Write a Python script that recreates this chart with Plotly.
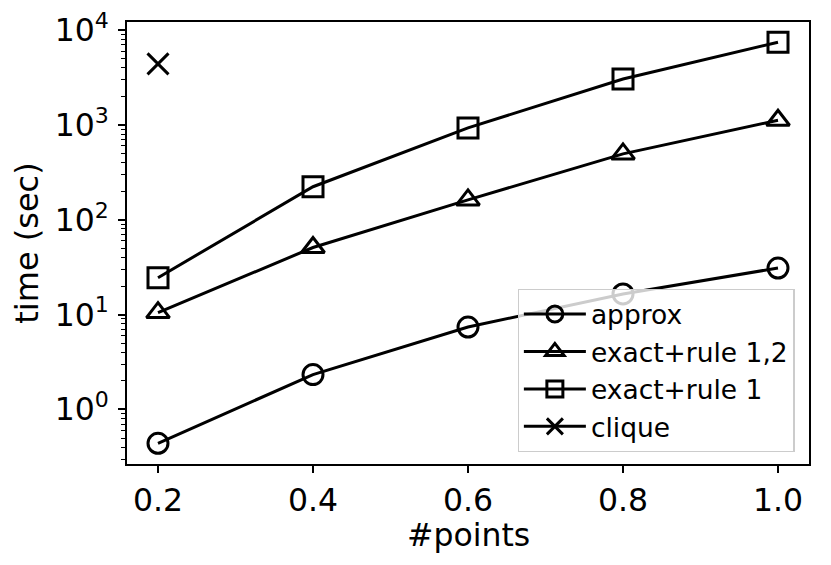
import plotly.graph_objects as go

# ---- data ----
points = [0.2, 0.4, 0.6, 0.8, 1.0]
approx = [0.44, 2.33, 7.4, 16.5, 31]
exact_rule12 = [10.5, 51, 162, 495, 1120]
exact_rule1 = [24.5, 223, 930, 3050, 7450]
clique_x = [0.2]
clique = [4400]

x_ticks = [0.2, 0.4, 0.6, 0.8, 1.0]
x_ticktext = ["0.2", "0.4", "0.6", "0.8", "1.0"]
y_tickvals = [1, 10, 100, 1000, 10000]
y_ticktext = ["10<sup>0</sup>", "10<sup>1</sup>", "10<sup>2</sup>", "10<sup>3</sup>", "10<sup>4</sup>"]

FONT = "DejaVu Sans"
LW = 3
MS = 20
FS = 31.5

fig = go.Figure()

series = [
    ("approx", points, approx, "circle-open", MS),
    ("exact+rule 1,2", points, exact_rule12, "triangle-up-open", MS),
    ("exact+rule 1", points, exact_rule1, "square-open", MS),
    ("clique", clique_x, clique, "x-thin-open", 21),
]
for name, xs, ys, sym, size in series:
    fig.add_trace(go.Scatter(
        x=xs, y=ys, name=name, mode="lines+markers", legendgroup=name,
        line=dict(color="black", width=LW),
        marker=dict(symbol=sym, size=size, color="black",
                    line=dict(color="black", width=LW)),
    ))

minor_vals = [m * 10 ** e for e in range(-1, 5) for m in range(2, 10)]

fig.update_layout(
    width=831, height=565,
    margin=dict(l=119, r=30, t=14, b=109),
    paper_bgcolor="white", plot_bgcolor="white",
    font=dict(family=FONT, size=FS, color="black"),
    showlegend=True,
    legend=dict(
        x=0.979, y=0.027, xanchor="right", yanchor="bottom",
        bgcolor="rgba(255,255,255,0.8)", bordercolor="#cccccc", borderwidth=1.2,
        font=dict(family=FONT, size=26.5, color="black"),
        tracegroupgap=0, itemwidth=62,
    ),
    xaxis=dict(
        range=[0.16, 1.04], automargin=False,
        tickmode="array", tickvals=x_ticks, ticktext=x_ticktext,
        showgrid=False, zeroline=False,
        showline=True, mirror=True, linecolor="black", linewidth=1.8,
        ticks="outside", ticklen=7, tickwidth=1.5, tickcolor="black",
        tickfont=dict(size=FS), ticklabeloverflow="allow",
    ),
    yaxis=dict(
        type="log", range=[-0.575, 4.085], automargin=False,
        tickmode="array", tickvals=y_tickvals, ticktext=y_ticktext,
        showgrid=False, zeroline=False,
        showline=True, mirror=True, linecolor="black", linewidth=1.8,
        ticks="outside", ticklen=7, tickwidth=1.5, tickcolor="black",
        tickfont=dict(size=FS), ticklabeloverflow="allow",
        ticklabelstandoff=3,
        minor=dict(tickmode="array", tickvals=minor_vals, ticks="outside",
                   ticklen=4, tickwidth=1.2, tickcolor="black", showgrid=False),
        title=dict(text="time (sec)", font=dict(size=32)),
    ),
    annotations=[dict(
        text="#points", xref="paper", yref="paper", x=0.5, y=0,
        xanchor="center", yanchor="middle", yshift=-71, showarrow=False,
        font=dict(family=FONT, size=31.5, color="black"),
    )],
)

fig.write_html("out.html")
